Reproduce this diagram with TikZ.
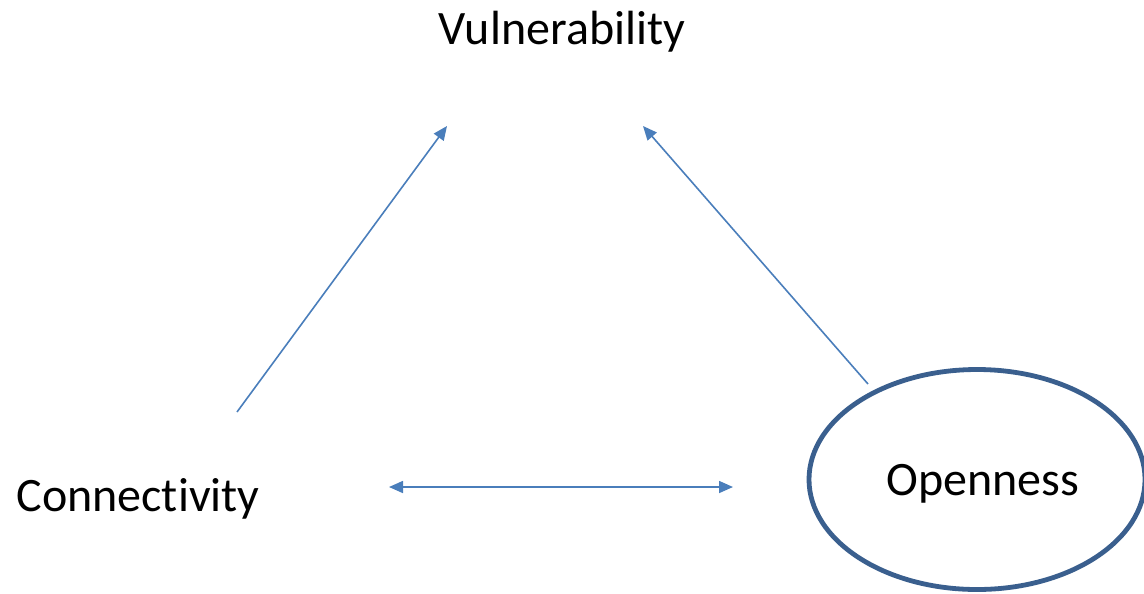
\documentclass[tikz,border=0pt]{standalone}
\usepackage{fontspec}
\setmainfont{Carlito}[Ligatures=NoCommon]
\usetikzlibrary{shapes.geometric}
\usetikzlibrary{arrows.meta}

\definecolor{linkblue}{HTML}{4A7EBB}
\definecolor{rimblue}{HTML}{3A5F8E}

\begin{document}
\begin{tikzpicture}[
     x={(0.75pt,0)}, y={(0,-0.75pt)},
     lbl/.style={anchor=base,font=\fontsize{36}{40}\selectfont,inner sep=0pt},
     link/.style={draw=linkblue,line width=1.2pt,-{Triangle[length=10.5pt,width=9pt]}}
   ]
   \useasboundingbox (0,0) rectangle (1144,593);
   % Factors.
   \node[lbl] (vuln) at (562,44) {Vulnerability};
   \node[lbl] (conn) at (138,511) {Connectivity};
   \node[ellipse,draw=rimblue,line width=3.6pt,minimum width=252pt,minimum height=165pt]
     (open) at (977,479.5) {};
   \node[lbl] (opentxt) at (983,495) {Openness};
   % Arrow ends.
   \coordinate (conn-up) at (237,412);
   \coordinate (vuln-left) at (447,126);
   \coordinate (open-up) at (868,384);
   \coordinate (vuln-right) at (643,126);
   \coordinate (conn-right) at (389,487);
   \coordinate (open-left) at (733,487);
   % Links.
   \draw[link] (conn-up) -- (vuln-left);
   \draw[link] (open-up) -- (vuln-right);
   \draw[link,{Triangle[length=10.5pt,width=9pt]}-{Triangle[length=10.5pt,width=9pt]}] (conn-right) -- (open-left);
 \end{tikzpicture}
\end{document}
